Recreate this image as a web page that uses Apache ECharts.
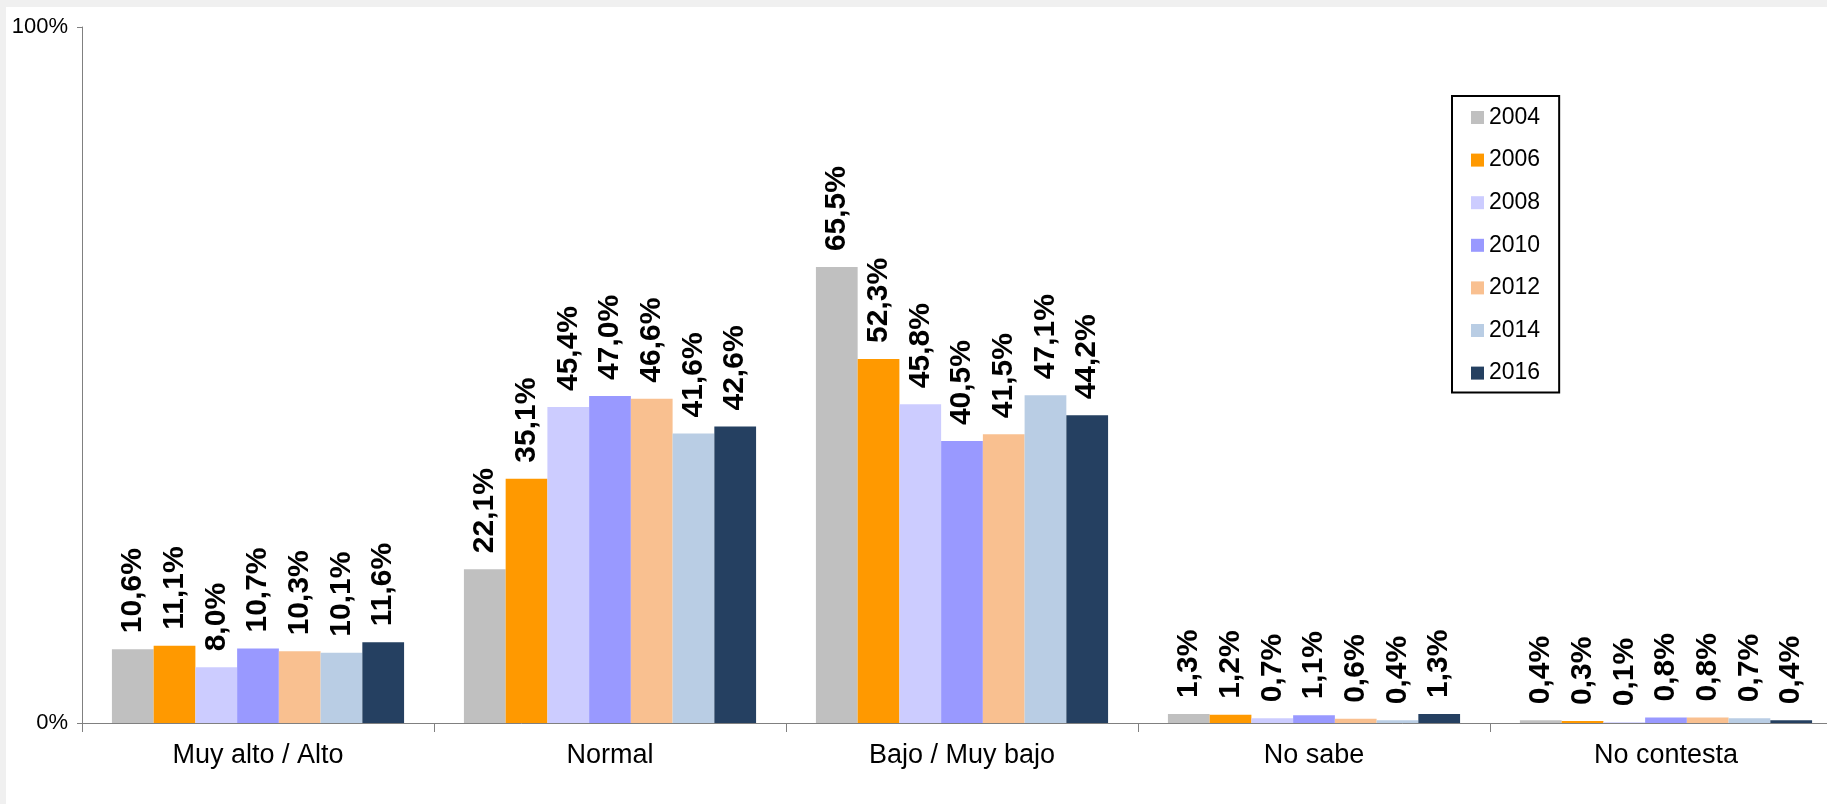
<!DOCTYPE html>
<html>
<head>
<meta charset="utf-8">
<script src="https://cdn.jsdelivr.net/npm/echarts@6/dist/echarts.min.js"></script>
<style>
  html, body { margin: 0; padding: 0; background: #F0F0F0; width: 1827px; height: 804px; overflow: hidden; position: relative; }
  #chart { position: absolute; left: 6px; top: 7px; width: 1900px; height: 797px; background: #ffffff; }
</style>
</head>
<body>
<div id="chart"></div>
<script>
const categories = ['Muy alto / Alto', 'Normal', 'Bajo / Muy bajo', 'No sabe', 'No contesta'];
const years = ['2004', '2006', '2008', '2010', '2012', '2014', '2016'];
const colors = ['#C0C0C0', '#FF9900', '#CCCCFF', '#9999FF', '#F9C090', '#B9CDE4', '#254061'];
const v2004 = [10.6, 22.1, 65.5, 1.3, 0.4];
const v2006 = [11.1, 35.1, 52.3, 1.2, 0.3];
const v2008 = [8.0, 45.4, 45.8, 0.7, 0.1];
const v2010 = [10.7, 47.0, 40.5, 1.1, 0.8];
const v2012 = [10.3, 46.6, 41.5, 0.6, 0.8];
const v2014 = [10.1, 41.6, 47.1, 0.4, 0.7];
const v2016 = [11.6, 42.6, 44.2, 1.3, 0.4];
const yTicks = [0, 100];

const seriesValues = [v2004, v2006, v2008, v2010, v2012, v2014, v2016];
const FONT = '"Liberation Sans", Arial, sans-serif';

const chart = echarts.init(document.getElementById('chart'), null, { renderer: 'canvas' });
chart.setOption({
  animation: false,
  textStyle: { fontFamily: FONT },
  grid: { left: 76, top: 20, width: 1760, height: 696 },
  legend: {
    orient: 'vertical',
    left: 1446, top: 89,
    borderColor: '#000', borderWidth: 2,
    padding: [10, 19, 8, 19],
    itemWidth: 13, itemHeight: 13, itemGap: 19.6, itemTextGap: 5,
    icon: 'rect',
    textStyle: { fontSize: 23, color: '#000', fontFamily: FONT },
    data: years
  },
  xAxis: {
    type: 'category',
    data: categories,
    axisLine: { lineStyle: { color: '#808080', width: 1 } },
    axisTick: { show: true, length: 9, lineStyle: { color: '#808080' } },
    axisLabel: { fontSize: 27, color: '#000', margin: 19, fontFamily: FONT }
  },
  yAxis: {
    type: 'value',
    min: yTicks[0], max: yTicks[1], interval: yTicks[1] - yTicks[0],
    axisLine: { show: true, lineStyle: { color: '#808080', width: 1 } },
    axisTick: { show: true, length: 5, lineStyle: { color: '#808080' } },
    splitLine: { show: false },
    axisLabel: { fontSize: 22, color: '#000', margin: 14, formatter: '{value}%', fontFamily: FONT }
  },
  series: years.map((y, i) => ({
    name: y,
    type: 'bar',
    data: seriesValues[i],
    barGap: '0%',
    barCategoryGap: '17%',
    itemStyle: { color: colors[i] },
    label: {
      show: true,
      position: 'top',
      rotate: 90,
      align: 'left',
      verticalAlign: 'middle',
      distance: 16,
      fontSize: 30,
      fontWeight: 'bold',
      color: '#000',
      fontFamily: FONT,
      formatter: p => p.value.toFixed(1).replace('.', ',') + '%'
    }
  }))
});
</script>
</body>
</html>
